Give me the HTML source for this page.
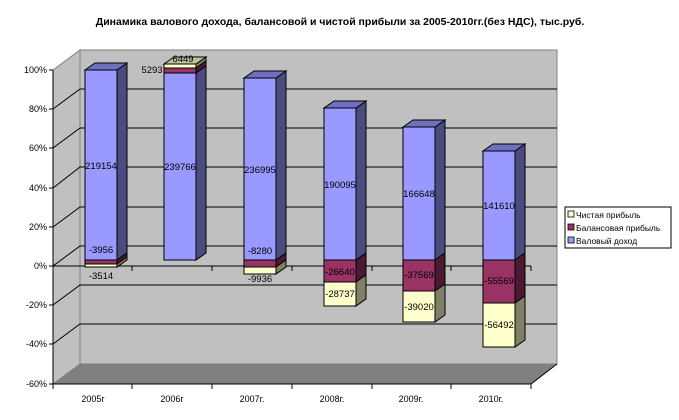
<!DOCTYPE html>
<html><head><meta charset="utf-8"><style>
html,body{margin:0;padding:0;background:#fff;}
svg{display:block;font-family:"Liberation Sans",Arial,sans-serif;}
</style></head><body>
<svg width="679" height="420" viewBox="0 0 679 420" xmlns="http://www.w3.org/2000/svg">
<text x="340" y="25" font-size="10.5" font-weight="bold" text-anchor="middle">Динамика валового дохода, балансовой и чистой прибыли за 2005-2010гг.(без НДС), тыс.руб.</text>
<!-- walls -->
<polygon points="53,70 80,50 80,364 53,384" fill="#c0c0c0" stroke="#808080"/>
<rect x="80" y="50" width="477" height="314" fill="#c0c0c0" stroke="#808080"/>
<polygon points="53,384 80,364 557,364 531,384" fill="#808080"/>
<polyline points="531,384 557,364" stroke="#000" fill="none"/>
<g stroke="#000" stroke-width="1" fill="none">
<polyline points="53,109 80,89 557,89"/>
<polyline points="53,148 80,128 557,128"/>
<polyline points="53,188 80,167 557,167"/>
<polyline points="53,227 80,207 557,207"/>
<polyline points="53,266 80,246 557,246"/>
<polyline points="53,305 80,285 557,285"/>
<polyline points="53,344 80,324 557,324"/>
<line x1="53" y1="70" x2="53" y2="384"/>
<line x1="53" y1="384" x2="531" y2="384"/>
<line x1="53" y1="266" x2="531" y2="266"/>
<path d="M49,70h4M49,109h4M49,148h4M49,188h4M49,227h4M49,266h4M49,305h4M49,344h4M49,384h4"/>
<path d="M53,384v5M132,384v5M212,384v5M292,384v5M372,384v5M451,384v5M531,384v5"/>
<path d="M132,266v5M212,266v5M292,266v5M372,266v5M451,266v5M531,266v5"/>
</g>
<g font-size="9" text-anchor="end">
<text x="47" y="73">100%</text><text x="47" y="112">80%</text><text x="47" y="151">60%</text><text x="47" y="191">40%</text><text x="47" y="230">20%</text><text x="47" y="269">0%</text><text x="47" y="308">-20%</text><text x="47" y="347">-40%</text><text x="47" y="387">-60%</text>
</g>
<g font-size="9" text-anchor="middle">
<text x="93" y="402">2005г</text><text x="172" y="402">2006г</text><text x="252" y="402">2007г.</text><text x="332" y="402">2008г.</text><text x="411" y="402">2009г.</text><text x="491" y="402">2010г.</text>
</g>
<!-- bars -->
<g stroke="#000" stroke-width="1">
<!-- 2005 -->
<polygon points="117,70 127,63 127,253 117,260" fill="#4b4b80"/>
<polygon points="117,260 127,253 127,257 117,264" fill="#4c1933"/>
<polygon points="117,264 127,257 127,260 117,267" fill="#808066"/>
<polygon points="85,70 95,63 127,63 117,70" fill="#7070c0"/>
<rect x="85" y="70" width="32" height="190" fill="#9999ff"/>
<rect x="85" y="260" width="32" height="4" fill="#993366"/>
<rect x="85" y="264" width="32" height="3" fill="#ffffcc"/>
<!-- 2006 -->
<polygon points="196,64 206,57 206,61 196,68" fill="#808066"/>
<polygon points="196,68 206,61 206,66 196,73" fill="#4c1933"/>
<polygon points="196,73 206,66 206,253 196,260" fill="#4b4b80"/>
<polygon points="164,64 174,57 206,57 196,64" fill="#c0c099"/>
<rect x="164" y="64" width="32" height="4" fill="#ffffcc"/>
<rect x="164" y="68" width="32" height="5" fill="#993366"/>
<rect x="164" y="73" width="32" height="187" fill="#9999ff"/>
<!-- 2007 -->
<polygon points="276,78 286,71 286,253 276,260" fill="#4b4b80"/>
<polygon points="276,260 286,253 286,260 276,267" fill="#4c1933"/>
<polygon points="276,267 286,260 286,267 276,274" fill="#808066"/>
<polygon points="244,78 254,71 286,71 276,78" fill="#7070c0"/>
<rect x="244" y="78" width="32" height="182" fill="#9999ff"/>
<rect x="244" y="260" width="32" height="7" fill="#993366"/>
<rect x="244" y="267" width="32" height="7" fill="#ffffcc"/>
<!-- 2008 -->
<polygon points="356,108 366,101 366,253 356,260" fill="#4b4b80"/>
<polygon points="356,260 366,253 366,275 356,282" fill="#4c1933"/>
<polygon points="356,282 366,275 366,299 356,306" fill="#808066"/>
<polygon points="324,108 334,101 366,101 356,108" fill="#7070c0"/>
<rect x="324" y="108" width="32" height="152" fill="#9999ff"/>
<rect x="324" y="260" width="32" height="22" fill="#993366"/>
<rect x="324" y="282" width="32" height="24" fill="#ffffcc"/>
<!-- 2009 -->
<polygon points="435,127 445,120 445,253 435,260" fill="#4b4b80"/>
<polygon points="435,260 445,253 445,284 435,291" fill="#4c1933"/>
<polygon points="435,291 445,284 445,315 435,322" fill="#808066"/>
<polygon points="403,127 413,120 445,120 435,127" fill="#7070c0"/>
<rect x="403" y="127" width="32" height="133" fill="#9999ff"/>
<rect x="403" y="260" width="32" height="31" fill="#993366"/>
<rect x="403" y="291" width="32" height="31" fill="#ffffcc"/>
<!-- 2010 -->
<polygon points="515,151 525,144 525,253 515,260" fill="#4b4b80"/>
<polygon points="515,260 525,253 525,296 515,303" fill="#4c1933"/>
<polygon points="515,303 525,296 525,340 515,347" fill="#808066"/>
<polygon points="483,151 493,144 525,144 515,151" fill="#7070c0"/>
<rect x="483" y="151" width="32" height="109" fill="#9999ff"/>
<rect x="483" y="260" width="32" height="43" fill="#993366"/>
<rect x="483" y="303" width="32" height="44" fill="#ffffcc"/>
</g>
<g font-size="9.5" text-anchor="middle">
<text x="101" y="169">219154</text><text x="101" y="253">-3956</text><text x="101" y="279">-3514</text>
<text x="180" y="170">239766</text><text x="152" y="73">5293</text><text x="183" y="62">6449</text>
<text x="260" y="173">236995</text><text x="260" y="254">-8280</text><text x="260" y="282">-9936</text>
<text x="340" y="188">190095</text><text x="340" y="275">-26640</text><text x="340" y="297">-28737</text>
<text x="419" y="197">166648</text><text x="419" y="278">-37569</text><text x="419" y="310">-39020</text>
<text x="499" y="209">141610</text><text x="499" y="284">-55569</text><text x="499" y="328">-56492</text>
</g>
<!-- legend -->
<rect x="565" y="207" width="106" height="41" fill="#fff" stroke="#000"/>
<rect x="568" y="211" width="6" height="6" fill="#ffffcc" stroke="#000" stroke-width="0.8"/>
<rect x="568" y="224" width="6" height="6" fill="#993366" stroke="#000" stroke-width="0.8"/>
<rect x="568" y="237" width="6" height="6" fill="#9999ff" stroke="#000" stroke-width="0.8"/>
<g font-size="8.5">
<text x="576" y="218">Чистая прибыль</text>
<text x="576" y="231">Балансовая прибыль</text>
<text x="576" y="244">Валовый доход</text>
</g>
</svg>
</body></html>
